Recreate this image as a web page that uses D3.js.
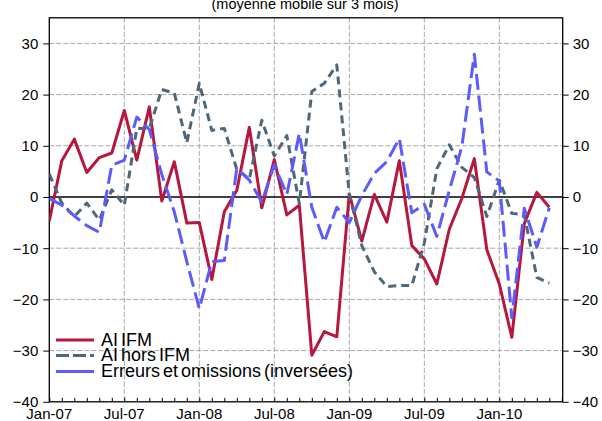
<!DOCTYPE html>
<html><head><meta charset="utf-8">
<script src="https://cdn.jsdelivr.net/npm/d3@7"></script>
<style>body{margin:0;background:#fff}svg{display:block}text{font-family:"Liberation Sans",Arial,sans-serif}</style>
</head><body><svg id="c" width="602" height="421"></svg>
<script>
const months = ["Jan-07","Feb-07","Mar-07","Apr-07","May-07","Jun-07","Jul-07","Aug-07","Sep-07","Oct-07","Nov-07","Dec-07",
"Jan-08","Feb-08","Mar-08","Apr-08","May-08","Jun-08","Jul-08","Aug-08","Sep-08","Oct-08","Nov-08","Dec-08",
"Jan-09","Feb-09","Mar-09","Apr-09","May-09","Jun-09","Jul-09","Aug-09","Sep-09","Oct-09","Nov-09","Dec-09",
"Jan-10","Feb-10","Mar-10","Apr-10","May-10"];
const aiIFM = [-4.7,7.1,11.3,4.8,7.7,8.6,16.9,7.2,17.6,-0.8,6.9,-5.1,-5.0,-16.1,-2.9,1.3,13.6,-2.1,7.3,-3.5,-1.6,-30.9,-26.3,-27.3,0.6,-8.6,0.5,-4.9,7.1,-9.5,-12.1,-17.0,-6.3,-0.3,7.5,-10.3,-17.0,-27.4,-5.2,0.9,-2.0];
const aiHorsIFM = [4.5,-1.2,-3.8,-1.2,-4.5,1.4,-1.6,13.4,13.4,21.0,20.3,10.6,22.2,13.0,13.4,5.4,3.5,15.0,8.0,12.0,-1.3,20.6,22.2,25.8,0.5,-9.5,-14.6,-17.5,-17.3,-17.3,-9.0,5.5,10.2,5.8,3.8,-3.8,3.3,-3.2,-3.5,-15.7,-16.8];
const erreurs = [-0.3,-1.6,-3.7,-5.6,-6.9,6.2,7.2,15.6,13.2,4.4,-2.9,-12.6,-21.8,-12.6,-12.4,5.6,3.3,-1.0,6.3,0.5,12.4,-2.0,-8.8,-2.0,-5.0,0.3,4.6,6.9,11.4,-3.1,-1.4,-7.7,1.3,9.8,27.9,4.9,3.1,-23.6,-2.2,-9.8,-2.1];
const yTicks = [-40,-30,-20,-10,0,10,20,30];
const xTickLabels = ["Jan-07","Jul-07","Jan-08","Jul-08","Jan-09","Jul-09","Jan-10"];
const seriesNames = ["AI IFM","AI hors IFM","Erreurs et omissions (inversées)"];
const title = "(moyenne mobile sur 3 mois)";

const svg = d3.select("#c");
const L = 49.3, R = 562.7, T = 17.8, B = 401.8;
const x = d3.scaleLinear().domain([0, 41.07]).range([L, R]);
const y = d3.scaleLinear().domain([-40, 35]).range([B, T]);

svg.append("text").attr("x", 305).attr("y", 9).attr("text-anchor","middle").attr("font-size",14.5).text(title);

// gridlines
const g = svg.append("g");
g.selectAll(".hg").data(yTicks.filter(d=>d!==-40 && d!==0)).join("line")
  .attr("x1",L).attr("x2",R).attr("y1",d=>y(d)).attr("y2",d=>y(d))
  .attr("stroke","#a8a8a8").attr("stroke-width",1).attr("stroke-dasharray","5,2");
const majorIdx = xTickLabels.map(m=>months.indexOf(m));
g.selectAll(".vg").data(majorIdx.filter(i=>i>0)).join("line")
  .attr("x1",d=>x(d)).attr("x2",d=>x(d)).attr("y1",T).attr("y2",B)
  .attr("stroke","#a8a8a8").attr("stroke-width",1).attr("stroke-dasharray","5,2");
g.append("line").attr("x1",L).attr("x2",R).attr("y1",y(0)).attr("y2",y(0)).attr("stroke","#000").attr("stroke-width",1.3);

// axes
const fs = 15;
const yl = d3.axisLeft(y).tickValues(yTicks).tickSize(6).tickFormat(d3.format("d"));
const ga = svg.append("g").attr("transform",`translate(${L},0)`).call(yl);
const yr = d3.axisRight(y).tickValues(yTicks).tickSize(6).tickFormat(d3.format("d"));
const gb = svg.append("g").attr("transform",`translate(${R},0)`).call(yr);
[ga,gb].forEach(a=>{a.select(".domain").remove();a.selectAll("text").attr("font-size",fs).attr("font-family","Liberation Sans, Arial").attr("fill","#000");a.selectAll("line").attr("stroke","#000");});
ga.selectAll("text").attr("x",-11);
gb.selectAll("text").attr("x",10);

const xb = d3.axisBottom(x).tickValues(d3.range(0,42)).tickSize(-4).tickFormat("");
const gx = svg.append("g").attr("transform",`translate(0,${B})`).call(xb);
gx.select(".domain").remove();
gx.selectAll("line").attr("stroke","#000");
svg.append("g").selectAll("text").data(xTickLabels).join("text")
  .attr("x",d=>x(months.indexOf(d))).attr("y",419).attr("text-anchor","middle").attr("font-size",fs).text(d=>d);

svg.append("rect").attr("x",L).attr("y",T).attr("width",R-L).attr("height",B-T).attr("fill","none").attr("stroke","#000").attr("stroke-width",1.3);

// lines
const line = d3.line().x((d,i)=>x(i)).y(d=>y(d));
const styles = [
  {data:aiIFM, color:"#b5173d", dash:null},
  {data:aiHorsIFM, color:"#4f6778", dash:"8,5"},
  {data:erreurs, color:"#5b5bff", dash:"16,6"}
];
svg.append("clipPath").attr("id","pc").append("rect").attr("x",L).attr("y",T).attr("width",R-L).attr("height",B-T);
const lg = svg.append("g").attr("clip-path","url(#pc)");
styles.forEach(s=>{
  lg.append("path").attr("d",line(s.data)).attr("fill","none").attr("stroke",s.color)
    .attr("stroke-width",3).attr("stroke-dasharray",s.dash).attr("stroke-linejoin","round");
});

// legend
const legY = [340,355.5,371.5];
const leg = svg.append("g");
styles.forEach((s,i)=>{
  leg.append("line").attr("x1",56).attr("x2",94).attr("y1",legY[i]).attr("y2",legY[i])
    .attr("stroke",s.color).attr("stroke-width",3).attr("stroke-dasharray", i===1?"13,4":null);
  leg.append("text").attr("x",101).attr("y",legY[i]+5.5).attr("font-size",18).attr("word-spacing",-2).text(seriesNames[i]);
});
</script></body></html>
